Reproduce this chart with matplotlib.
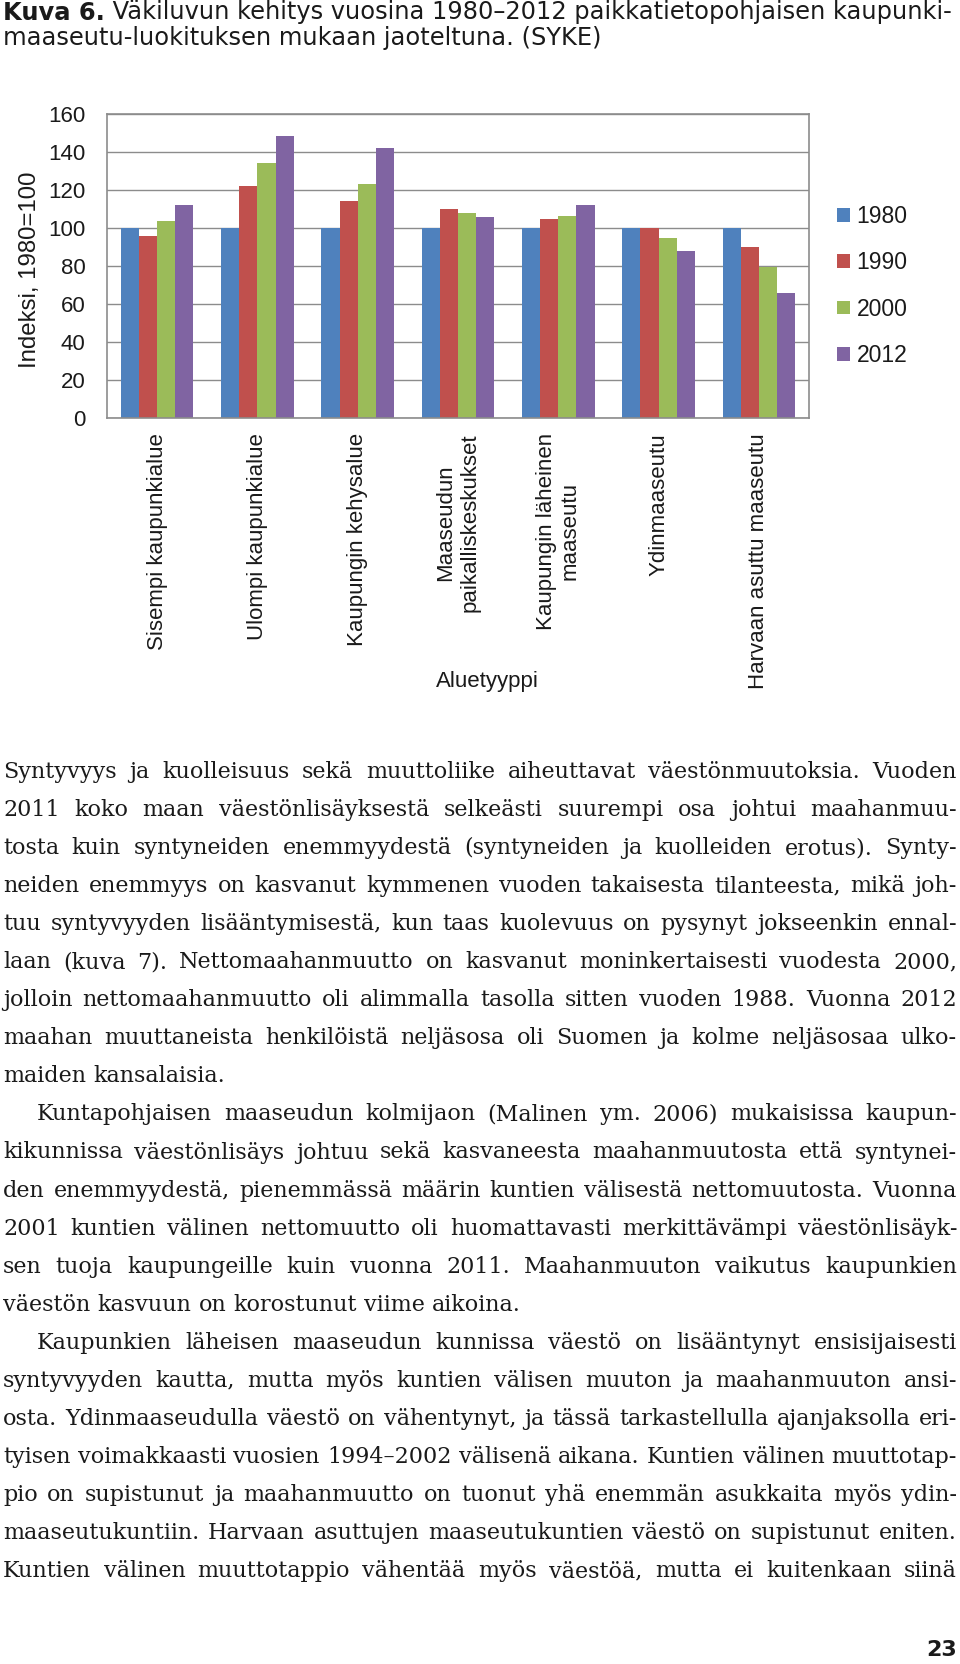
import matplotlib
matplotlib.use("Agg")
import matplotlib.pyplot as plt
import numpy as np

# Sivun koko pikseleinä (dpi 100)
W, H = 960, 1664

# --- Kuvan data ---
alueet = [
    "Sisempi kaupunkialue",
    "Ulompi kaupunkialue",
    "Kaupungin kehysalue",
    "Maaseudun\npaikalliskeskukset",
    "Kaupungin läheinen\nmaaseutu",
    "Ydinmaaseutu",
    "Harvaan asuttu maaseutu",
]
vuodet = ["1980", "1990", "2000", "2012"]
ind_1980 = [100, 100, 100, 100, 100, 100, 100]
ind_1990 = [96, 122, 114, 110, 105, 100, 90]
ind_2000 = [104, 134, 123, 108, 106.5, 95, 79.5]
ind_2012 = [112, 148.5, 142, 106, 112, 88, 66]
y_ticks = [0, 20, 40, 60, 80, 100, 120, 140, 160]
varit = ["#4F81BD", "#C0504D", "#9BBB59", "#8064A2"]

otsikko_lihava = "Kuva 6."
otsikko_rivit = [
    " Väkiluvun kehitys vuosina 1980–2012 paikkatietopohjaisen kaupunki-",
    "maaseutu-luokituksen mukaan jaoteltuna. (SYKE)",
]

kappale_1 = [
    "Syntyvyys ja kuolleisuus sekä muuttoliike aiheuttavat väestönmuutoksia. Vuoden",
    "2011 koko maan väestönlisäyksestä selkeästi suurempi osa johtui maahanmuu-",
    "tosta kuin syntyneiden enemmyydestä (syntyneiden ja kuolleiden erotus). Synty-",
    "neiden enemmyys on kasvanut kymmenen vuoden takaisesta tilanteesta, mikä joh-",
    "tuu syntyvyyden lisääntymisestä, kun taas kuolevuus on pysynyt jokseenkin ennal-",
    "laan (kuva 7). Nettomaahanmuutto on kasvanut moninkertaisesti vuodesta 2000,",
    "jolloin nettomaahanmuutto oli alimmalla tasolla sitten vuoden 1988. Vuonna 2012",
    "maahan muuttaneista henkilöistä neljäsosa oli Suomen ja kolme neljäsosaa ulko-",
    "maiden kansalaisia.",
]
kappale_2 = [
    "Kuntapohjaisen maaseudun kolmijaon (Malinen ym. 2006) mukaisissa kaupun-",
    "kikunnissa väestönlisäys johtuu sekä kasvaneesta maahanmuutosta että syntynei-",
    "den enemmyydestä, pienemmässä määrin kuntien välisestä nettomuutosta. Vuonna",
    "2001 kuntien välinen nettomuutto oli huomattavasti merkittävämpi väestönlisäyk-",
    "sen tuoja kaupungeille kuin vuonna 2011. Maahanmuuton vaikutus kaupunkien",
    "väestön kasvuun on korostunut viime aikoina.",
]
kappale_3 = [
    "Kaupunkien läheisen maaseudun kunnissa väestö on lisääntynyt ensisijaisesti",
    "syntyvyyden kautta, mutta myös kuntien välisen muuton ja maahanmuuton ansi-",
    "osta. Ydinmaaseudulla väestö on vähentynyt, ja tässä tarkastellulla ajanjaksolla eri-",
    "tyisen voimakkaasti vuosien 1994–2002 välisenä aikana. Kuntien välinen muuttotap-",
    "pio on supistunut ja maahanmuutto on tuonut yhä enemmän asukkaita myös ydin-",
    "maaseutukuntiin. Harvaan asuttujen maaseutukuntien väestö on supistunut eniten.",
    "Kuntien välinen muuttotappio vähentää myös väestöä, mutta ei kuitenkaan siinä",
]
sivunumero = "23"


def fx(x):
    return x / W


def fy(y):
    return 1 - y / H


fig = plt.figure(figsize=(W / 100, H / 100), dpi=100)
fig.patch.set_facecolor("white")
renderer = fig.canvas.get_renderer()
TUMMA = "#1a1a1a"


def leveys(s, **kw):
    t = fig.text(0, 0, s, **kw)
    w = t.get_window_extent(renderer).width
    t.remove()
    return w


# --- Pylväskaavio ---
ax = fig.add_axes([fx(107), fy(418.3), (809 - 107) / W, (418.3 - 114) / H])
sarjat = [ind_1980, ind_1990, ind_2000, ind_2012]
x = np.arange(len(alueet))
bw = 0.181
for i, (arvot, vari, vuosi) in enumerate(zip(sarjat, varit, vuodet)):
    ax.bar(x + (i - 1.5) * bw, arvot, width=bw, color=vari, label=vuosi, zorder=2)

ax.set_xlim(-0.5, len(alueet) - 0.5)
ax.set_ylim(0, 160)
ax.set_yticks(y_ticks)
ax.set_axisbelow(True)
ax.yaxis.grid(True, color="#8c8c8c", lw=1)
for sp in ax.spines.values():
    sp.set_color("#8c8c8c")
    sp.set_linewidth(1.2)

ax.tick_params(axis="y", length=0, pad=15.5, labelsize=16, labelcolor=TUMMA)
ax.tick_params(axis="x", length=0, pad=10.5)
ax.set_xticks(x)
ax.set_xticklabels(alueet, rotation=90, ha="center", va="top",
                   multialignment="center", fontsize=16,
                   family="Liberation Sans", color=TUMMA)
for lbl in ax.get_yticklabels():
    lbl.set_family("Liberation Sans")
ax.set_ylabel("Indeksi, 1980=100", family="Liberation Sans", fontsize=17.3,
              color=TUMMA)
ax.yaxis.set_label_coords((41 - 107) / (809 - 107), (418.3 - 270) / (418.3 - 114))

fig.text(fx(487), fy(681), "Aluetyyppi", ha="center", va="center",
         color=TUMMA, family="Liberation Sans", fontsize=16)

leg = ax.legend(loc="center left", bbox_to_anchor=(fx(837), fy(286)),
                bbox_transform=fig.transFigure, frameon=False,
                prop={"family": "Liberation Sans", "size": 16.5},
                handlelength=0.55, handleheight=0.55, handletextpad=0.3,
                labelspacing=1.02, borderpad=0, borderaxespad=0)
for t in leg.get_texts():
    t.set_color(TUMMA)

# --- Otsikko ---
otsikko_kw = dict(family="DejaVu Sans", color=TUMMA)
koko = 16
w_tot = leveys(otsikko_lihava, fontsize=koko, fontweight="bold", **otsikko_kw) + \
    leveys(otsikko_rivit[0], fontsize=koko, **otsikko_kw)
koko = koko * (954 - 3) / w_tot
w_bold = leveys(otsikko_lihava, fontsize=koko, fontweight="bold", **otsikko_kw)
fig.text(fx(3), fy(19.5), otsikko_lihava, fontsize=koko, fontweight="bold",
         va="baseline", ha="left", **otsikko_kw)
fig.text(fx(3 + w_bold), fy(19.5), otsikko_rivit[0], fontsize=koko,
         va="baseline", ha="left", **otsikko_kw)
fig.text(fx(3), fy(45), otsikko_rivit[1], fontsize=koko,
         va="baseline", ha="left", **otsikko_kw)

# --- Leipäteksti tasattuna ---
vasen, oikea = 3, 957
sisennys = 34
rivivali = 38.05
min_vali = 7.0

rivit = []
for kappale in (kappale_1, kappale_2, kappale_3):
    for j, rivi in enumerate(kappale):
        eka = j == 0 and kappale is not kappale_1
        viimeinen = j == len(kappale) - 1 and kappale is not kappale_3
        rivit.append((rivi, eka, viimeinen))

# fonttikoko niin, että tiukin rivi mahtuu
perus = dict(family="DejaVu Serif", fontsize=10, color=TUMMA)
koko_teksti = 100.0
for rivi, eka, viimeinen in rivit:
    if viimeinen:
        continue
    sanat = rivi.split(" ")
    summa = sum(leveys(s, **perus) for s in sanat)
    tila = oikea - vasen - (sisennys if eka else 0) - min_vali * (len(sanat) - 1)
    koko_teksti = min(koko_teksti, 10 * tila / summa)

teksti_kw = dict(family="DejaVu Serif", fontsize=koko_teksti, color=TUMMA)
valilyonti = leveys("a a", **teksti_kw) - leveys("aa", **teksti_kw)

for k, (rivi, eka, viimeinen) in enumerate(rivit):
    y = 778 + k * rivivali
    x0 = vasen + (sisennys if eka else 0)
    sanat = rivi.split(" ")
    lev = [leveys(s, **teksti_kw) for s in sanat]
    if viimeinen or len(sanat) < 2:
        vali = valilyonti
    else:
        vali = (oikea - x0 - sum(lev)) / (len(sanat) - 1)
    xx = x0
    for s, l in zip(sanat, lev):
        fig.text(fx(xx), fy(y), s, ha="left", va="baseline", **teksti_kw)
        xx += l + vali

fig.text(fx(957), fy(1656), sivunumero, ha="right", va="baseline",
         family="DejaVu Sans", fontweight="bold", fontsize=16, color=TUMMA)

fig.savefig("out.png", dpi=100, facecolor="white")
